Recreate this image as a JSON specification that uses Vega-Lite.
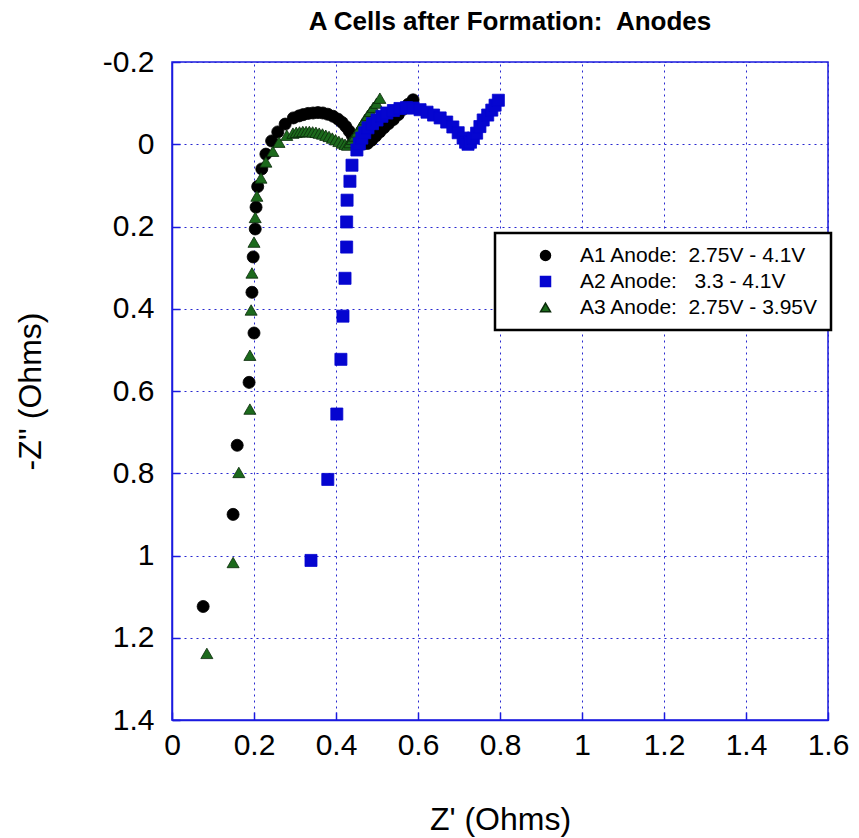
{
  "$schema": "https://vega.github.io/schema/vega-lite/v6.json",
  "autosize": "none",
  "padding": {"left": 172, "top": 62, "right": 31, "bottom": 118},
  "width": 656,
  "height": 658,
  "background": "white",
  "title": {"text": "A Cells after Formation:\u00a0 Anodes", "font": "Liberation Sans", "fontSize": 26, "fontWeight": "bold", "color": "black", "offset": 12, "dx": 10},
  "config": {
    "font": "Liberation Sans",
    "view": {"stroke": "#1a1ae0", "strokeWidth": 1.5},
    "legend": {"strokeWidth": 2.5},
    "axis": {
      "labelFont": "Liberation Sans", "labelFontSize": 30, "labelColor": "black",
      "titleFont": "Liberation Sans", "titleFontSize": 32, "titleFontWeight": "normal", "titleColor": "black",
      "domainColor": "#1a1ae0", "domainWidth": 1.5,
      "tickColor": "#1a1ae0", "tickSize": -8, "tickWidth": 1.5,
      "gridColor": "#2828d0", "gridDash": [2, 4], "gridWidth": 1, "gridOpacity": 1
    }
  },
  "data": {"values": [
    {"s": "A1 Anode:\u00a0 2.75V - 4.1V", "x": 0.076, "y": 1.124},
    {"s": "A1 Anode:\u00a0 2.75V - 4.1V", "x": 0.149, "y": 0.9},
    {"s": "A1 Anode:\u00a0 2.75V - 4.1V", "x": 0.159, "y": 0.732},
    {"s": "A1 Anode:\u00a0 2.75V - 4.1V", "x": 0.188, "y": 0.579},
    {"s": "A1 Anode:\u00a0 2.75V - 4.1V", "x": 0.2, "y": 0.459},
    {"s": "A1 Anode:\u00a0 2.75V - 4.1V", "x": 0.195, "y": 0.36},
    {"s": "A1 Anode:\u00a0 2.75V - 4.1V", "x": 0.198, "y": 0.274},
    {"s": "A1 Anode:\u00a0 2.75V - 4.1V", "x": 0.203, "y": 0.206},
    {"s": "A1 Anode:\u00a0 2.75V - 4.1V", "x": 0.205, "y": 0.153},
    {"s": "A1 Anode:\u00a0 2.75V - 4.1V", "x": 0.209, "y": 0.103},
    {"s": "A1 Anode:\u00a0 2.75V - 4.1V", "x": 0.219, "y": 0.06},
    {"s": "A1 Anode:\u00a0 2.75V - 4.1V", "x": 0.229, "y": 0.024},
    {"s": "A1 Anode:\u00a0 2.75V - 4.1V", "x": 0.243, "y": -0.008},
    {"s": "A1 Anode:\u00a0 2.75V - 4.1V", "x": 0.258, "y": -0.03},
    {"s": "A1 Anode:\u00a0 2.75V - 4.1V", "x": 0.276, "y": -0.049},
    {"s": "A1 Anode:\u00a0 2.75V - 4.1V", "x": 0.296, "y": -0.064},
    {"s": "A1 Anode:\u00a0 2.75V - 4.1V", "x": 0.31, "y": -0.069},
    {"s": "A1 Anode:\u00a0 2.75V - 4.1V", "x": 0.32, "y": -0.072},
    {"s": "A1 Anode:\u00a0 2.75V - 4.1V", "x": 0.332, "y": -0.075},
    {"s": "A1 Anode:\u00a0 2.75V - 4.1V", "x": 0.344, "y": -0.076},
    {"s": "A1 Anode:\u00a0 2.75V - 4.1V", "x": 0.356, "y": -0.077},
    {"s": "A1 Anode:\u00a0 2.75V - 4.1V", "x": 0.368, "y": -0.076},
    {"s": "A1 Anode:\u00a0 2.75V - 4.1V", "x": 0.38, "y": -0.073},
    {"s": "A1 Anode:\u00a0 2.75V - 4.1V", "x": 0.393, "y": -0.068},
    {"s": "A1 Anode:\u00a0 2.75V - 4.1V", "x": 0.405, "y": -0.061},
    {"s": "A1 Anode:\u00a0 2.75V - 4.1V", "x": 0.415, "y": -0.053},
    {"s": "A1 Anode:\u00a0 2.75V - 4.1V", "x": 0.424, "y": -0.043},
    {"s": "A1 Anode:\u00a0 2.75V - 4.1V", "x": 0.432, "y": -0.032},
    {"s": "A1 Anode:\u00a0 2.75V - 4.1V", "x": 0.44, "y": -0.02},
    {"s": "A1 Anode:\u00a0 2.75V - 4.1V", "x": 0.448, "y": -0.01},
    {"s": "A1 Anode:\u00a0 2.75V - 4.1V", "x": 0.457, "y": -0.004},
    {"s": "A1 Anode:\u00a0 2.75V - 4.1V", "x": 0.467, "y": -0.001},
    {"s": "A1 Anode:\u00a0 2.75V - 4.1V", "x": 0.477, "y": -0.002},
    {"s": "A1 Anode:\u00a0 2.75V - 4.1V", "x": 0.487, "y": -0.01},
    {"s": "A1 Anode:\u00a0 2.75V - 4.1V", "x": 0.497, "y": -0.02},
    {"s": "A1 Anode:\u00a0 2.75V - 4.1V", "x": 0.507, "y": -0.03},
    {"s": "A1 Anode:\u00a0 2.75V - 4.1V", "x": 0.517, "y": -0.04},
    {"s": "A1 Anode:\u00a0 2.75V - 4.1V", "x": 0.528, "y": -0.05},
    {"s": "A1 Anode:\u00a0 2.75V - 4.1V", "x": 0.54, "y": -0.06},
    {"s": "A1 Anode:\u00a0 2.75V - 4.1V", "x": 0.552, "y": -0.072},
    {"s": "A1 Anode:\u00a0 2.75V - 4.1V", "x": 0.564, "y": -0.085},
    {"s": "A1 Anode:\u00a0 2.75V - 4.1V", "x": 0.576, "y": -0.097},
    {"s": "A1 Anode:\u00a0 2.75V - 4.1V", "x": 0.588, "y": -0.108},
    {"s": "A3 Anode:\u00a0 2.75V - 3.95V", "x": 0.085, "y": 1.238},
    {"s": "A3 Anode:\u00a0 2.75V - 3.95V", "x": 0.149, "y": 1.017},
    {"s": "A3 Anode:\u00a0 2.75V - 3.95V", "x": 0.163, "y": 0.798},
    {"s": "A3 Anode:\u00a0 2.75V - 3.95V", "x": 0.19, "y": 0.644},
    {"s": "A3 Anode:\u00a0 2.75V - 3.95V", "x": 0.19, "y": 0.513},
    {"s": "A3 Anode:\u00a0 2.75V - 3.95V", "x": 0.193, "y": 0.403},
    {"s": "A3 Anode:\u00a0 2.75V - 3.95V", "x": 0.195, "y": 0.313},
    {"s": "A3 Anode:\u00a0 2.75V - 3.95V", "x": 0.2, "y": 0.238},
    {"s": "A3 Anode:\u00a0 2.75V - 3.95V", "x": 0.203, "y": 0.178},
    {"s": "A3 Anode:\u00a0 2.75V - 3.95V", "x": 0.207, "y": 0.126},
    {"s": "A3 Anode:\u00a0 2.75V - 3.95V", "x": 0.217, "y": 0.082},
    {"s": "A3 Anode:\u00a0 2.75V - 3.95V", "x": 0.229, "y": 0.043},
    {"s": "A3 Anode:\u00a0 2.75V - 3.95V", "x": 0.246, "y": 0.017},
    {"s": "A3 Anode:\u00a0 2.75V - 3.95V", "x": 0.261, "y": -0.005},
    {"s": "A3 Anode:\u00a0 2.75V - 3.95V", "x": 0.28, "y": -0.022},
    {"s": "A3 Anode:\u00a0 2.75V - 3.95V", "x": 0.295, "y": -0.027},
    {"s": "A3 Anode:\u00a0 2.75V - 3.95V", "x": 0.303, "y": -0.029},
    {"s": "A3 Anode:\u00a0 2.75V - 3.95V", "x": 0.311, "y": -0.03},
    {"s": "A3 Anode:\u00a0 2.75V - 3.95V", "x": 0.319, "y": -0.031},
    {"s": "A3 Anode:\u00a0 2.75V - 3.95V", "x": 0.327, "y": -0.031},
    {"s": "A3 Anode:\u00a0 2.75V - 3.95V", "x": 0.335, "y": -0.031},
    {"s": "A3 Anode:\u00a0 2.75V - 3.95V", "x": 0.343, "y": -0.03},
    {"s": "A3 Anode:\u00a0 2.75V - 3.95V", "x": 0.351, "y": -0.029},
    {"s": "A3 Anode:\u00a0 2.75V - 3.95V", "x": 0.359, "y": -0.027},
    {"s": "A3 Anode:\u00a0 2.75V - 3.95V", "x": 0.367, "y": -0.025},
    {"s": "A3 Anode:\u00a0 2.75V - 3.95V", "x": 0.375, "y": -0.022},
    {"s": "A3 Anode:\u00a0 2.75V - 3.95V", "x": 0.383, "y": -0.019},
    {"s": "A3 Anode:\u00a0 2.75V - 3.95V", "x": 0.391, "y": -0.015},
    {"s": "A3 Anode:\u00a0 2.75V - 3.95V", "x": 0.399, "y": -0.011},
    {"s": "A3 Anode:\u00a0 2.75V - 3.95V", "x": 0.407, "y": -0.007},
    {"s": "A3 Anode:\u00a0 2.75V - 3.95V", "x": 0.415, "y": -0.003},
    {"s": "A3 Anode:\u00a0 2.75V - 3.95V", "x": 0.422, "y": 0.0},
    {"s": "A3 Anode:\u00a0 2.75V - 3.95V", "x": 0.428, "y": 0.002},
    {"s": "A3 Anode:\u00a0 2.75V - 3.95V", "x": 0.434, "y": -0.004},
    {"s": "A3 Anode:\u00a0 2.75V - 3.95V", "x": 0.44, "y": -0.012},
    {"s": "A3 Anode:\u00a0 2.75V - 3.95V", "x": 0.446, "y": -0.02},
    {"s": "A3 Anode:\u00a0 2.75V - 3.95V", "x": 0.452, "y": -0.03},
    {"s": "A3 Anode:\u00a0 2.75V - 3.95V", "x": 0.458, "y": -0.04},
    {"s": "A3 Anode:\u00a0 2.75V - 3.95V", "x": 0.464, "y": -0.05},
    {"s": "A3 Anode:\u00a0 2.75V - 3.95V", "x": 0.47, "y": -0.06},
    {"s": "A3 Anode:\u00a0 2.75V - 3.95V", "x": 0.477, "y": -0.07},
    {"s": "A3 Anode:\u00a0 2.75V - 3.95V", "x": 0.484, "y": -0.08},
    {"s": "A3 Anode:\u00a0 2.75V - 3.95V", "x": 0.491, "y": -0.09},
    {"s": "A3 Anode:\u00a0 2.75V - 3.95V", "x": 0.499, "y": -0.1},
    {"s": "A3 Anode:\u00a0 2.75V - 3.95V", "x": 0.507, "y": -0.112},
    {"s": "A2 Anode:\u00a0 \u00a03.3 - 4.1V", "x": 0.339, "y": 1.012},
    {"s": "A2 Anode:\u00a0 \u00a03.3 - 4.1V", "x": 0.38, "y": 0.815},
    {"s": "A2 Anode:\u00a0 \u00a03.3 - 4.1V", "x": 0.402, "y": 0.656},
    {"s": "A2 Anode:\u00a0 \u00a03.3 - 4.1V", "x": 0.412, "y": 0.523},
    {"s": "A2 Anode:\u00a0 \u00a03.3 - 4.1V", "x": 0.417, "y": 0.418},
    {"s": "A2 Anode:\u00a0 \u00a03.3 - 4.1V", "x": 0.422, "y": 0.326},
    {"s": "A2 Anode:\u00a0 \u00a03.3 - 4.1V", "x": 0.426, "y": 0.25},
    {"s": "A2 Anode:\u00a0 \u00a03.3 - 4.1V", "x": 0.426, "y": 0.189},
    {"s": "A2 Anode:\u00a0 \u00a03.3 - 4.1V", "x": 0.427, "y": 0.136},
    {"s": "A2 Anode:\u00a0 \u00a03.3 - 4.1V", "x": 0.434, "y": 0.09},
    {"s": "A2 Anode:\u00a0 \u00a03.3 - 4.1V", "x": 0.439, "y": 0.051},
    {"s": "A2 Anode:\u00a0 \u00a03.3 - 4.1V", "x": 0.451, "y": 0.014},
    {"s": "A2 Anode:\u00a0 \u00a03.3 - 4.1V", "x": 0.457, "y": -0.001},
    {"s": "A2 Anode:\u00a0 \u00a03.3 - 4.1V", "x": 0.463, "y": -0.015},
    {"s": "A2 Anode:\u00a0 \u00a03.3 - 4.1V", "x": 0.47, "y": -0.028},
    {"s": "A2 Anode:\u00a0 \u00a03.3 - 4.1V", "x": 0.478, "y": -0.04},
    {"s": "A2 Anode:\u00a0 \u00a03.3 - 4.1V", "x": 0.489, "y": -0.05},
    {"s": "A2 Anode:\u00a0 \u00a03.3 - 4.1V", "x": 0.5, "y": -0.059},
    {"s": "A2 Anode:\u00a0 \u00a03.3 - 4.1V", "x": 0.512, "y": -0.068},
    {"s": "A2 Anode:\u00a0 \u00a03.3 - 4.1V", "x": 0.524, "y": -0.076},
    {"s": "A2 Anode:\u00a0 \u00a03.3 - 4.1V", "x": 0.54, "y": -0.082},
    {"s": "A2 Anode:\u00a0 \u00a03.3 - 4.1V", "x": 0.556, "y": -0.087},
    {"s": "A2 Anode:\u00a0 \u00a03.3 - 4.1V", "x": 0.572, "y": -0.089},
    {"s": "A2 Anode:\u00a0 \u00a03.3 - 4.1V", "x": 0.588, "y": -0.088},
    {"s": "A2 Anode:\u00a0 \u00a03.3 - 4.1V", "x": 0.605, "y": -0.084},
    {"s": "A2 Anode:\u00a0 \u00a03.3 - 4.1V", "x": 0.622, "y": -0.078},
    {"s": "A2 Anode:\u00a0 \u00a03.3 - 4.1V", "x": 0.638, "y": -0.071},
    {"s": "A2 Anode:\u00a0 \u00a03.3 - 4.1V", "x": 0.654, "y": -0.064},
    {"s": "A2 Anode:\u00a0 \u00a03.3 - 4.1V", "x": 0.67, "y": -0.054},
    {"s": "A2 Anode:\u00a0 \u00a03.3 - 4.1V", "x": 0.685, "y": -0.042},
    {"s": "A2 Anode:\u00a0 \u00a03.3 - 4.1V", "x": 0.698, "y": -0.028},
    {"s": "A2 Anode:\u00a0 \u00a03.3 - 4.1V", "x": 0.71, "y": -0.015},
    {"s": "A2 Anode:\u00a0 \u00a03.3 - 4.1V", "x": 0.716, "y": -0.005},
    {"s": "A2 Anode:\u00a0 \u00a03.3 - 4.1V", "x": 0.722, "y": 0.0},
    {"s": "A2 Anode:\u00a0 \u00a03.3 - 4.1V", "x": 0.728, "y": -0.005},
    {"s": "A2 Anode:\u00a0 \u00a03.3 - 4.1V", "x": 0.735, "y": -0.015},
    {"s": "A2 Anode:\u00a0 \u00a03.3 - 4.1V", "x": 0.743, "y": -0.027},
    {"s": "A2 Anode:\u00a0 \u00a03.3 - 4.1V", "x": 0.751, "y": -0.043},
    {"s": "A2 Anode:\u00a0 \u00a03.3 - 4.1V", "x": 0.759, "y": -0.059},
    {"s": "A2 Anode:\u00a0 \u00a03.3 - 4.1V", "x": 0.77, "y": -0.071},
    {"s": "A2 Anode:\u00a0 \u00a03.3 - 4.1V", "x": 0.78, "y": -0.083},
    {"s": "A2 Anode:\u00a0 \u00a03.3 - 4.1V", "x": 0.788, "y": -0.095},
    {"s": "A2 Anode:\u00a0 \u00a03.3 - 4.1V", "x": 0.796, "y": -0.107}
  ]},
  "mark": {"type": "point", "filled": true, "size": 145, "opacity": 1, "strokeWidth": 0.8},
  "encoding": {
    "x": {"field": "x", "type": "quantitative", "title": "Z' (Ohms)",
      "scale": {"domain": [0, 1.6], "nice": false, "zero": false},
      "axis": {"values": [0, 0.2, 0.4, 0.6, 0.8, 1, 1.2, 1.4, 1.6], "labelExpr": "'' + datum.value", "labelPadding": 18, "titlePadding": 44, "labelFlush": false}},
    "y": {"field": "y", "type": "quantitative", "title": "-Z'' (Ohms)",
      "scale": {"domain": [-0.2, 1.4], "reverse": true, "nice": false, "zero": false},
      "axis": {"values": [-0.2, 0, 0.2, 0.4, 0.6, 0.8, 1, 1.2, 1.4], "labelExpr": "'' + datum.value", "labelPadding": 26, "titlePadding": 55, "labelFlush": false}},
    "shape": {"field": "s", "type": "nominal", "title": null,
      "scale": {"domain": ["A1 Anode:\u00a0 2.75V - 4.1V", "A2 Anode:\u00a0 \u00a03.3 - 4.1V", "A3 Anode:\u00a0 2.75V - 3.95V"], "range": ["circle", "square", "triangle-up"]},
      "legend": {"orient": "none", "legendX": 323, "legendY": 171, "fillColor": "white", "strokeColor": "black", "padding": 12,
        "labelFont": "Liberation Sans", "labelFontSize": 21, "labelColor": "black", "symbolSize": 100, "symbolOffset": 28, "labelOffset": 24, "rowPadding": 4, "labelLimit": 400,
        "encode": {"labels": {"update": {"fill": {"signal": "indexof(datum.label, 'A2') === 0 ? '#1010d8' : 'black'"}}}}}},
    "fill": {"field": "s", "type": "nominal", "title": null,
      "scale": {"domain": ["A1 Anode:\u00a0 2.75V - 4.1V", "A2 Anode:\u00a0 \u00a03.3 - 4.1V", "A3 Anode:\u00a0 2.75V - 3.95V"], "range": ["black", "#0505d0", "#1c6a1c"]}},
    "stroke": {"field": "s", "type": "nominal", "title": null,
      "scale": {"domain": ["A1 Anode:\u00a0 2.75V - 4.1V", "A2 Anode:\u00a0 \u00a03.3 - 4.1V", "A3 Anode:\u00a0 2.75V - 3.95V"], "range": ["black", "#0505d0", "#0a2a0a"]}}
  }
}
